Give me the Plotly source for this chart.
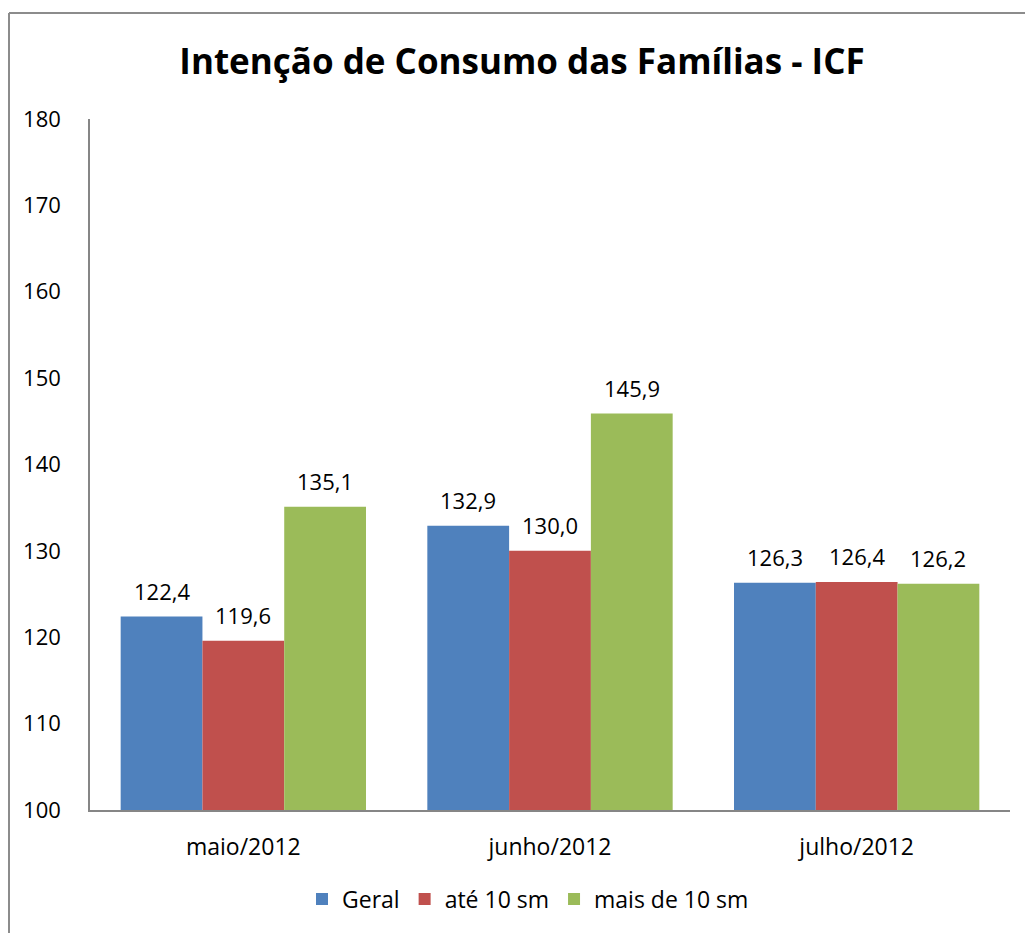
import plotly.graph_objects as go

categories = ["maio/2012", "junho/2012", "julho/2012"]
series_names = ["Geral", "até 10 sm", "mais de 10 sm"]
geral = [122.4, 132.9, 126.3]
ate10 = [119.6, 130.0, 126.4]
mais10 = [135.1, 145.9, 126.2]
colors = ["#4F81BD", "#C0504D", "#9BBB59"]
y_ticks = [100, 110, 120, 130, 140, 150, 160, 170, 180]
title_text = "Intenção de Consumo das Famílias - ICF"

FONT = "Open Sans"
W, H = 1025, 933
ML, MT = 90, 119
MR = W - 1010
MB = H - 810
PW, PH = W - ML - MR, H - MT - MB

fig = go.Figure()
all_series = [geral, ate10, mais10]
for name, vals, col in zip(series_names, all_series, colors):
    fig.add_trace(go.Bar(x=categories, y=vals, name=name, marker=dict(color=col, line=dict(width=0))))

bargap = 0.2
bw = (1 - bargap) / 3
annotations = []
for si, vals in enumerate(all_series):
    for ci, v in enumerate(vals):
        annotations.append(dict(
            x=ci + (si - 1) * bw, y=v, xref="x", yref="y",
            text=f"{v:.1f}".replace(".", ","), showarrow=False,
            yanchor="bottom", yshift=9,
            font=dict(family=FONT, size=22, color="#000000")))

def px_x(p):
    return (p - ML) / PW

def px_y(p):
    return 1 - (p - MT) / PH

shapes = [
    dict(type="line", xref="paper", yref="paper", x0=px_x(9), x1=px_x(9), y0=px_y(13), y1=px_y(933),
         line=dict(color="#8C8C8C", width=2)),
    dict(type="line", xref="paper", yref="paper", x0=px_x(9), x1=px_x(1025), y0=px_y(13), y1=px_y(13),
         line=dict(color="#8C8C8C", width=2)),
]

fig.update_layout(
    width=W, height=H,
    margin=dict(l=ML, r=MR, t=MT, b=MB, autoexpand=False),
    paper_bgcolor="white", plot_bgcolor="white",
    barmode="group", bargap=bargap, bargroupgap=0,
    font=dict(family=FONT, size=22, color="#000000"),
    title=dict(text=f"<b>{title_text}</b>", x=px_x(522), xref="paper", xanchor="center",
               y=1 - 62 / H, yref="container", yanchor="middle",
               font=dict(family=FONT, size=35, color="#000000")),
    xaxis=dict(showline=True, linecolor="#868686", linewidth=2, showgrid=False, ticks="",
               ticklabelstandoff=15, tickfont=dict(family=FONT, size=23)),
    yaxis=dict(range=[100, 180], tickvals=y_ticks, showline=True, linecolor="#868686", linewidth=1.5,
               showgrid=False, ticks="", ticklabelstandoff=23, zeroline=False,
               tickfont=dict(family=FONT, size=22)),
    legend=dict(orientation="h", x=px_x(528), xanchor="center", y=px_y(899), yanchor="middle",
                font=dict(family=FONT, size=23), itemwidth=30, traceorder="normal"),
    annotations=annotations,
    shapes=shapes,
    showlegend=True,
)

fig.write_html(
    "out.html",
    config={"displayModeBar": False},
    post_script="document.body.style.margin='0';document.body.style.overflow='hidden';",
)
